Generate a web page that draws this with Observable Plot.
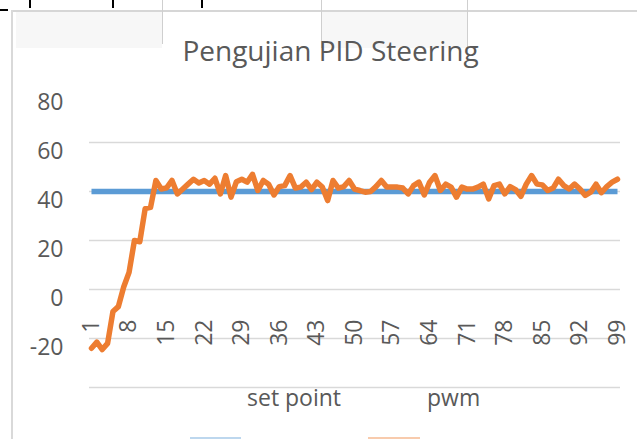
<!DOCTYPE html>
<html>
<head>
<meta charset="utf-8">
<script src="https://cdn.jsdelivr.net/npm/d3@7"></script>
<script src="https://cdn.jsdelivr.net/npm/@observablehq/plot@0.6"></script>
<style>
  html, body { margin: 0; padding: 0; background: #fff; }
  #wrap { position: relative; width: 637px; height: 439px; overflow: hidden; font-family: "Open Sans", sans-serif; color: #595959; }
  .abs { position: absolute; }
  #title { position: absolute; left: 0; width: 661px; top: 31px; text-align: center; font-size: 28px; color: #595959; white-space: nowrap; }
  .leg { position: absolute; top: 381px; font-size: 23px; color: #595959; white-space: nowrap; }
</style>
</head>
<body>
<div id="wrap">
  <div id="chart" class="abs" style="left:0;top:0"></div>
  <!-- spreadsheet artifacts at top -->
  <div class="abs" style="left:16px;top:11px;width:146px;height:37px;background:#f7f7f7"></div>
  <div class="abs" style="left:321px;top:11px;width:146px;height:37px;background:#f7f7f7"></div>
  <div class="abs" style="left:12px;top:10px;width:625px;height:2px;background:#d6d6d6"></div>
  <div class="abs" style="left:11px;top:10px;width:2px;height:429px;background:#d9d9d9"></div>
  <div class="abs" style="left:0px;top:9px;width:8px;height:2px;background:#000"></div>
  <div class="abs" style="left:29px;top:0px;width:2px;height:8px;background:#000"></div>
  <div class="abs" style="left:112px;top:0px;width:2px;height:8px;background:#000"></div>
  <div class="abs" style="left:201px;top:0px;width:2px;height:8px;background:#000"></div>
  <div class="abs" style="left:162px;top:0px;width:1px;height:44px;background:#cfcfcf"></div>
  <div class="abs" style="left:321px;top:0px;width:1px;height:48px;background:#cfcfcf"></div>
  <div class="abs" style="left:467px;top:0px;width:1px;height:48px;background:#cfcfcf"></div>
  <div id="title">Pengujian PID Steering</div>
  <div class="leg" style="left:247px">set point</div>
  <div class="leg" style="left:427px">pwm</div>
  <div class="abs" style="left:190px;top:437px;width:51px;height:3px;background:#bdd7ee"></div>
  <div class="abs" style="left:368px;top:437px;width:52px;height:3px;background:#f8cbad"></div>
</div>
<script>
const categories = d3.range(1, 100);
const setPoint = [40,40,40,40,40,40,40,40,40,40,40,40,40,40,40,40,40,40,40,40,
  40,40,40,40,40,40,40,40,40,40,40,40,40,40,40,40,40,40,40,40,
  40,40,40,40,40,40,40,40,40,40,40,40,40,40,40,40,40,40,40,40,
  40,40,40,40,40,40,40,40,40,40,40,40,40,40,40,40,40,40,40,40,
  40,40,40,40,40,40,40,40,40,40,40,40,40,40,40,40,40,40,40];
const pwm = [-24,-21.5,-24.5,-22,-9,-7,1,7,20,19.5,
  33,33.5,44.5,41,41.5,44.5,39,41,43,45,
  43.5,44.5,43,45.4,39,46.5,37.7,44,45,43.8,
  47,40.4,44.5,43,38.6,42,42.4,46.5,41.4,41.8,
  43.8,40.8,43.8,41.8,36.3,44.5,41.4,42,44.5,41,
  40.4,39.7,40,42,44.5,41.8,41.8,41.8,41.4,39,
  42.4,43.8,38.6,43.8,46.5,40.4,43,41.8,37.7,41.8,
  41,41,41.8,43,37,42.4,43,39,42,40.8,
  38,43,46.5,43,42.7,40.4,41.4,45,42.4,41,
  43,41,38.4,39.7,43,39.5,42,43.8,45];
const xTickLabels = [1,8,15,22,29,36,43,50,57,64,71,78,85,92,99];
const yTickLabels = [80,60,40,20,0,-20];
const gridValues = [-40,-20,0,20,40,60];

const spData = categories.map((c, i) => ({c, v: setPoint[i]}));
const pwmData = categories.map((c, i) => ({c, v: pwm[i]}));

const chart = Plot.plot({
  width: 637,
  height: 439,
  marginLeft: 89,
  marginRight: 17,
  marginTop: 93,
  marginBottom: 52,
  style: {color: "#595959", fontFamily: "'Open Sans', sans-serif", background: "transparent"},
  x: {type: "linear", domain: [0.63, 99.56], axis: null},
  y: {domain: [-40, 80], axis: null},
  marks: [
    Plot.ruleY(gridValues, {stroke: "#d9d9d9", strokeWidth: 1.5}),
    Plot.text(yTickLabels, {y: d => d, text: d => String(d), frameAnchor: "left", textAnchor: "end", dx: -26, dy: 9, fontSize: 23, fill: "#595959"}),
    Plot.text(xTickLabels, {x: d => d, text: d => String(d), frameAnchor: "bottom", rotate: -90, textAnchor: "end", lineAnchor: "middle", dy: -68, fontSize: 23, fill: "#595959"}),
    Plot.line(spData, {x: "c", y: "v", stroke: "#5b9bd5", strokeWidth: 5.5, strokeLinecap: "butt"}),
    Plot.line(pwmData, {x: "c", y: "v", stroke: "#ed7d31", strokeWidth: 5.5, strokeLinejoin: "round", strokeLinecap: "round"})
  ]
});
document.getElementById("chart").appendChild(chart);
</script>
</body>
</html>
